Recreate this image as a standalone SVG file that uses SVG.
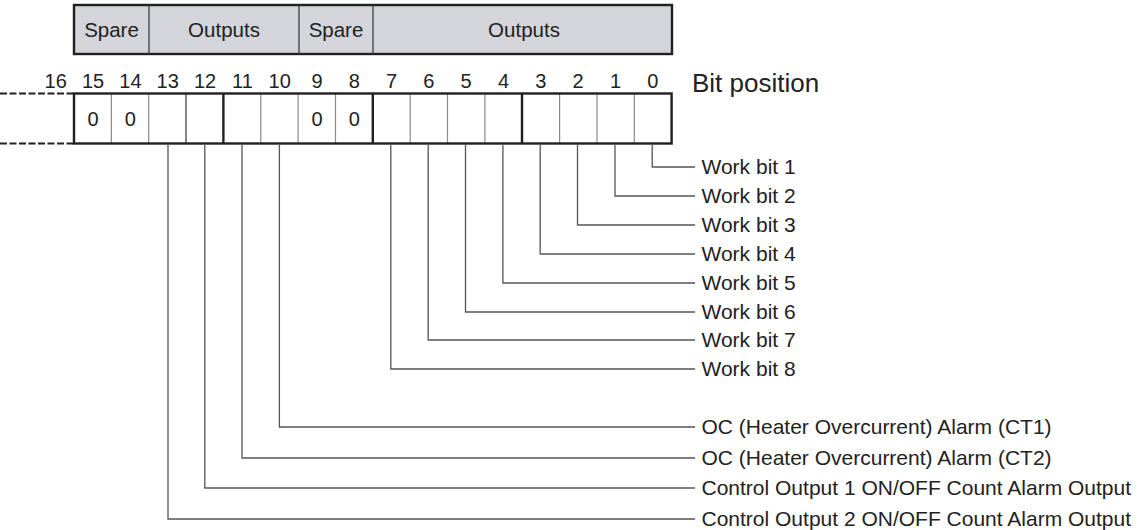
<svg xmlns="http://www.w3.org/2000/svg" width="1139" height="530" viewBox="0 0 1139 530">
<style>
text{font-family:"Liberation Sans",Arial,sans-serif;fill:#222}
.hdr{font-size:20.5px;text-anchor:middle}
.num{font-size:20px;text-anchor:middle}
.lbl{font-size:21px}
.big{font-size:26px}
.thin{stroke:#8a8a8a;stroke-width:1.2}
.mid{stroke:#333;stroke-width:1.2}
.thick{stroke:#231f20;stroke-width:2.4}
.conn{fill:none;stroke:#555;stroke-width:1.3}
</style>
<rect width="1139" height="530" fill="#fff"/>
<g id="header">
<rect x="74" y="5" width="598" height="49" fill="#d3d5da" stroke="#231f20" stroke-width="2.4"/>
<line x1="149" y1="5" x2="149" y2="54" class="mid"/>
<line x1="299" y1="5" x2="299" y2="54" class="mid"/>
<line x1="373" y1="5" x2="373" y2="54" class="mid"/>
<text x="111.5" y="37" class="hdr">Spare</text>
<text x="224" y="37" class="hdr">Outputs</text>
<text x="336" y="37" class="hdr">Spare</text>
<text x="524" y="37" class="hdr">Outputs</text>
</g>
<g id="bit-numbers">
<text x="55.7" y="88" class="num">16</text>
<text x="93" y="88" class="num">15</text>
<text x="130.4" y="88" class="num">14</text>
<text x="167.7" y="88" class="num">13</text>
<text x="205" y="88" class="num">12</text>
<text x="242.4" y="88" class="num">11</text>
<text x="279.7" y="88" class="num">10</text>
<text x="317" y="88" class="num">9</text>
<text x="354.4" y="88" class="num">8</text>
<text x="391.5" y="88" class="num">7</text>
<text x="428.8" y="88" class="num">6</text>
<text x="466" y="88" class="num">5</text>
<text x="503.5" y="88" class="num">4</text>
<text x="540.8" y="88" class="num">3</text>
<text x="578" y="88" class="num">2</text>
<text x="615.5" y="88" class="num">1</text>
<text x="652.8" y="88" class="num">0</text>
<text x="692" y="92" class="big">Bit position</text>
</g>
<g id="register">
<line x1="0" y1="93.5" x2="74" y2="93.5" stroke="#231f20" stroke-width="2" stroke-dasharray="7,2.5"/>
<line x1="0" y1="143.5" x2="74" y2="143.5" stroke="#231f20" stroke-width="2" stroke-dasharray="7,2.5"/>
<line x1="111.4" y1="93.5" x2="111.4" y2="143.5" class="thin"/>
<line x1="148.7" y1="93.5" x2="148.7" y2="143.5" class="thin"/>
<line x1="186" y1="93.5" x2="186" y2="143.5" class="mid"/>
<line x1="223.4" y1="93.5" x2="223.4" y2="143.5" class="thick"/>
<line x1="260.8" y1="93.5" x2="260.8" y2="143.5" class="thin"/>
<line x1="298.1" y1="93.5" x2="298.1" y2="143.5" class="thin"/>
<line x1="335.5" y1="93.5" x2="335.5" y2="143.5" class="thin"/>
<line x1="372.8" y1="93.5" x2="372.8" y2="143.5" class="thick"/>
<line x1="410.2" y1="93.5" x2="410.2" y2="143.5" class="thin"/>
<line x1="447.5" y1="93.5" x2="447.5" y2="143.5" class="thin"/>
<line x1="484.9" y1="93.5" x2="484.9" y2="143.5" class="thin"/>
<line x1="522" y1="93.5" x2="522" y2="143.5" class="thick"/>
<line x1="559.6" y1="93.5" x2="559.6" y2="143.5" class="thin"/>
<line x1="597" y1="93.5" x2="597" y2="143.5" class="thin"/>
<line x1="634.3" y1="93.5" x2="634.3" y2="143.5" class="thin"/>
<rect x="74" y="93.5" width="597.6" height="50" fill="none" stroke="#231f20" stroke-width="2.4"/>
<text x="93" y="126" class="num">0</text>
<text x="130.4" y="126" class="num">0</text>
<text x="317" y="126" class="num">0</text>
<text x="354.4" y="126" class="num">0</text>
</g>
<g id="connectors" class="conn">
<polyline points="652.2,144.5 652.2,167 695,167"/>
<polyline points="615,144.5 615,196 695,196"/>
<polyline points="577.5,144.5 577.5,225 695,225"/>
<polyline points="540.2,144.5 540.2,254 695,254"/>
<polyline points="502.9,144.5 502.9,283 695,283"/>
<polyline points="465.5,144.5 465.5,312 695,312"/>
<polyline points="428.2,144.5 428.2,340 695,340"/>
<polyline points="390.8,144.5 390.8,369 695,369"/>
<polyline points="279.4,144.5 279.4,427 695,427"/>
<polyline points="242,144.5 242,458 695,458"/>
<polyline points="204.8,144.5 204.8,488 695,488"/>
<polyline points="168,144.5 168,519 695,519"/>
</g>
<g id="labels">
<text x="701.5" y="174" class="lbl">Work bit 1</text>
<text x="701.5" y="203" class="lbl">Work bit 2</text>
<text x="701.5" y="232" class="lbl">Work bit 3</text>
<text x="701.5" y="261" class="lbl">Work bit 4</text>
<text x="701.5" y="290" class="lbl">Work bit 5</text>
<text x="701.5" y="319" class="lbl">Work bit 6</text>
<text x="701.5" y="347" class="lbl">Work bit 7</text>
<text x="701.5" y="376" class="lbl">Work bit 8</text>
<text x="701.5" y="434" class="lbl">OC (Heater Overcurrent) Alarm (CT1)</text>
<text x="701.5" y="465" class="lbl">OC (Heater Overcurrent) Alarm (CT2)</text>
<text x="701.5" y="495" class="lbl">Control Output 1 ON/OFF Count Alarm Output</text>
<text x="701.5" y="526" class="lbl">Control Output 2 ON/OFF Count Alarm Output</text>
</g>
</svg>
